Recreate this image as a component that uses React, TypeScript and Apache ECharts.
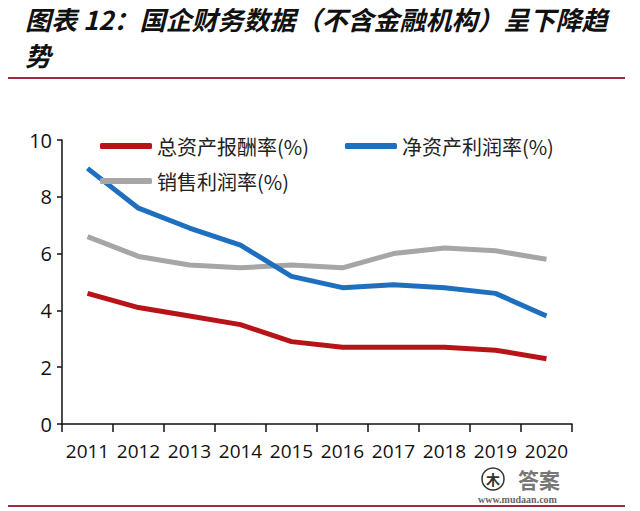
import React, { useEffect, useRef } from "react";
import * as echarts from "echarts";

const years = ["2011", "2012", "2013", "2014", "2015", "2016", "2017", "2018", "2019", "2020"];
const totalAssetReturn = [4.6, 4.1, 3.8, 3.5, 2.9, 2.7, 2.7, 2.7, 2.6, 2.3];
const netAssetProfit = [9.0, 7.6, 6.9, 6.3, 5.2, 4.8, 4.9, 4.8, 4.6, 3.8];
const salesProfit = [6.6, 5.9, 5.6, 5.5, 5.6, 5.5, 6.0, 6.2, 6.1, 5.8];
const seriesNames = ["总资产报酬率(%)", "净资产利润率(%)", "销售利润率(%)"];
const titleLine1 = "图表 12：国企财务数据（不含金融机构）呈下降趋";
const titleLine2 = "势";

const CJK = "'Noto Sans CJK SC', 'Noto Sans', sans-serif";
const NUM = "'Open Sans', 'Liberation Sans', Arial, sans-serif";

export default function App() {
  const ref = useRef<HTMLDivElement>(null);
  useEffect(() => {
    document.body.style.margin = "0";
    const chart = echarts.init(ref.current!, null, { renderer: "svg" });
    const legendText = { fontFamily: CJK, fontSize: 20, color: "#222" };
    chart.setOption({
      animation: false,
      backgroundColor: "#fff",
      grid: { left: 62, right: 68, top: 140, bottom: 87 },
      legend: [
        {
          data: [seriesNames[0], seriesNames[1]],
          left: 95,
          top: 131,
          itemWidth: 52,
          itemHeight: 6,
          itemGap: 36,
          icon: "roundRect",
          textStyle: legendText,
        },
        {
          data: [seriesNames[2]],
          left: 95,
          top: 166,
          itemWidth: 52,
          itemHeight: 6,
          icon: "roundRect",
          textStyle: legendText,
        },
      ],
      xAxis: {
        type: "category",
        data: years,
        boundaryGap: true,
        axisLine: { lineStyle: { color: "#111", width: 1.5 } },
        axisTick: { show: true, length: 8, lineStyle: { color: "#111", width: 1.5 } },
        axisLabel: { fontFamily: NUM, fontSize: 19, color: "#111", margin: 17, interval: 0 },
      },
      yAxis: {
        type: "value",
        min: 0,
        max: 10,
        interval: 2,
        axisLine: { show: true, lineStyle: { color: "#111", width: 1.5 } },
        axisTick: { show: true, length: 5, lineStyle: { color: "#111", width: 1.5 } },
        splitLine: { show: false },
        axisLabel: { fontFamily: NUM, fontSize: 20, color: "#111", margin: 10 },
      },
      series: [
        {
          name: seriesNames[0],
          type: "line",
          data: totalAssetReturn,
          symbol: "none",
          color: "#B81418",
          lineStyle: { width: 5, color: "#B81418" },
          z: 3,
        },
        {
          name: seriesNames[1],
          type: "line",
          data: netAssetProfit,
          symbol: "none",
          color: "#1F6FBF",
          lineStyle: { width: 5, color: "#1F6FBF" },
          z: 2,
        },
        {
          name: seriesNames[2],
          type: "line",
          data: salesProfit,
          symbol: "none",
          color: "#A6A6A6",
          lineStyle: { width: 5, color: "#A6A6A6" },
          z: 1,
        },
      ],
      graphic: [
        {
          type: "text",
          left: 25,
          top: 5,
          style: {
            text: titleLine1,
            font: `italic bold 26px ${CJK}`,
            fill: "#111",
          },
        },
        {
          type: "text",
          left: 25,
          top: 41,
          style: {
            text: titleLine2,
            font: `italic bold 26px ${CJK}`,
            fill: "#111",
          },
        },
        {
          type: "line",
          shape: { x1: 8, y1: 78, x2: 625, y2: 78 },
          style: { stroke: "#9C2A3C", lineWidth: 2 },
        },
        {
          type: "line",
          shape: { x1: 8, y1: 506, x2: 625, y2: 506 },
          style: { stroke: "#9C2A3C", lineWidth: 2 },
        },
        {
          type: "circle",
          shape: { cx: 493, cy: 479, r: 11 },
          style: { fill: "#fff", stroke: "#333", lineWidth: 1.5 },
          z: 101,
        },
        {
          type: "text",
          x: 493,
          y: 479,
          style: {
            text: "木",
            font: `bold 14px ${CJK}`,
            fill: "#333",
            align: "center",
            verticalAlign: "middle",
          },
          z: 102,
        },
        {
          type: "text",
          x: 518,
          y: 468,
          style: {
            text: "答案",
            font: `bold 21px ${CJK}`,
            lineHeight: 22,
            fill: "#777",
            verticalAlign: "top",
          },
          z: 101,
        },
        {
          type: "text",
          x: 478,
          y: 494,
          style: {
            text: "www.mudaan.com",
            font: `bold 10px 'Liberation Serif', serif`,
            lineHeight: 10,
            fill: "#666",
            verticalAlign: "top",
          },
          z: 101,
        },
      ],
    });
    return () => chart.dispose();
  }, []);
  return <div ref={ref} style={{ width: 640, height: 511 }} />;
}
